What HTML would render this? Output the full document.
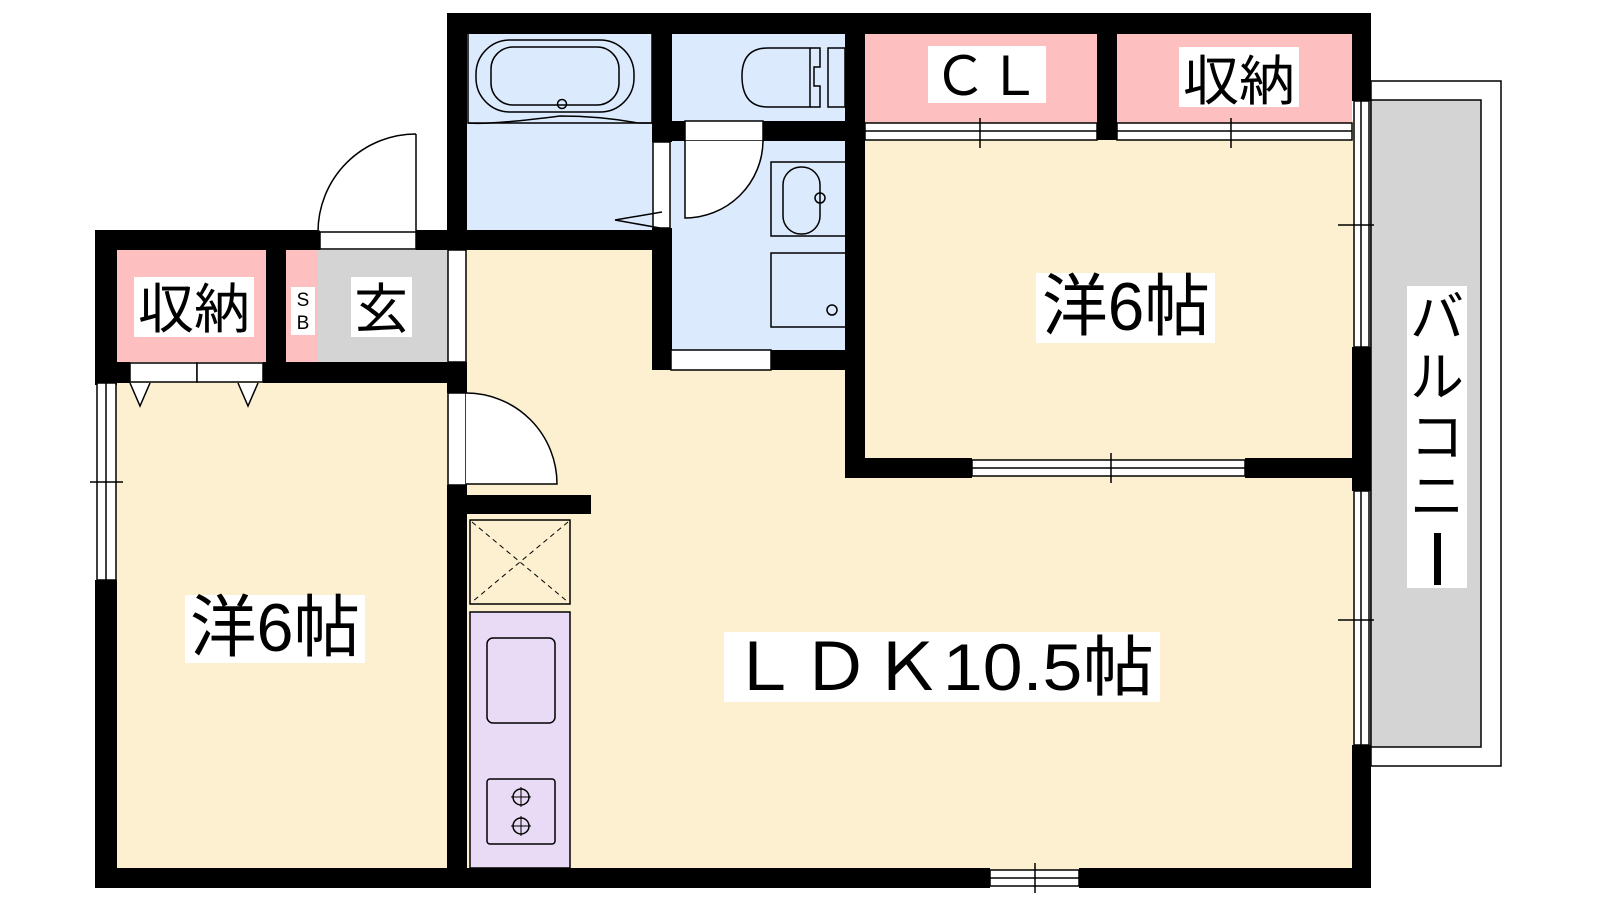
<!DOCTYPE html>
<html><head><meta charset="utf-8"><style>
body{margin:0;background:#fff;width:1600px;height:900px;overflow:hidden}
svg{display:block}
text{font-family:"Liberation Sans","Noto Sans CJK JP",sans-serif;fill:#000}
</style></head><body>
<svg width="1600" height="900" viewBox="0 0 1600 900" xmlns="http://www.w3.org/2000/svg">
<!-- balcony -->
<rect x="1371" y="81" width="130" height="685" fill="#fff" stroke="#000" stroke-width="1.5"/>
<rect x="1371" y="100" width="110" height="647" fill="#d4d4d4" stroke="#000" stroke-width="1.5"/>
<!-- floors -->
<rect x="115" y="380" width="335" height="490" fill="#fdf0d0"/>
<rect x="465" y="245" width="890" height="625" fill="#fdf0d0"/>
<rect x="860" y="120" width="495" height="345" fill="#fdf0d0"/>
<rect x="467" y="33" width="190" height="200" fill="#dbeafd"/>
<rect x="668" y="33" width="180" height="320" fill="#dbeafd"/>
<rect x="865" y="33" width="232" height="90" fill="#fdbfbf"/>
<rect x="1117" y="33" width="235" height="90" fill="#fdbfbf"/>
<rect x="117" y="250" width="150" height="112" fill="#fdbfbf"/>
<rect x="286" y="250" width="32" height="112" fill="#fdbfbf"/>
<rect x="318" y="250" width="130" height="112" fill="#d4d4d4"/>
<!-- walls -->
<g fill="#000">
<rect x="447" y="13" width="924" height="21"/>
<rect x="447" y="13" width="20" height="237"/>
<rect x="95" y="230" width="225" height="20"/>
<rect x="416" y="230" width="256" height="20"/>
<rect x="95" y="230" width="22" height="155"/>
<rect x="95" y="580" width="22" height="308"/>
<rect x="95" y="868" width="895" height="20"/>
<rect x="1079" y="868" width="292" height="20"/>
<rect x="1352" y="13" width="19" height="88"/>
<rect x="1352" y="347" width="19" height="144"/>
<rect x="1352" y="745" width="19" height="143"/>
<rect x="266" y="250" width="20" height="112"/>
<rect x="95" y="362" width="35" height="21"/>
<rect x="263" y="362" width="204" height="21"/>
<rect x="447" y="362" width="20" height="31"/>
<rect x="447" y="485" width="20" height="395"/>
<rect x="447" y="495" width="144" height="19"/>
<rect x="652" y="13" width="20" height="129"/>
<rect x="652" y="228" width="20" height="142"/>
<rect x="672" y="121" width="13" height="20"/>
<rect x="763" y="121" width="85" height="20"/>
<rect x="771" y="350" width="77" height="20"/>
<rect x="845" y="13" width="20" height="465"/>
<rect x="1097" y="33" width="20" height="107"/>
<rect x="845" y="458" width="127" height="20"/>
<rect x="1245" y="458" width="126" height="20"/>
</g>
<!-- openings/strips -->
<g fill="#fff" stroke="#000" stroke-width="1.5">
<rect x="320" y="232" width="96" height="17"/>
<rect x="448" y="250" width="18" height="112"/>
<rect x="448" y="393" width="18" height="92"/>
<rect x="653" y="142" width="17" height="86"/>
<rect x="685" y="121" width="78" height="20"/>
<rect x="671" y="350" width="100" height="20"/>
<rect x="130" y="363" width="67" height="19"/>
<rect x="197" y="363" width="66" height="19"/>
<rect x="97" y="383" width="19" height="197"/>
<rect x="972" y="460" width="273" height="16"/>
<rect x="990" y="870" width="89" height="16"/>
<rect x="1354" y="101" width="15" height="246"/>
<rect x="1354" y="491" width="15" height="254"/>
<rect x="865" y="123" width="232" height="17"/>
<rect x="1117" y="123" width="235" height="17"/>
</g>
<g stroke="#000" stroke-width="1.5" fill="none">
<line x1="106" y1="383" x2="106" y2="580"/>
<line x1="972" y1="468" x2="1245" y2="468"/>
<line x1="990" y1="878" x2="1079" y2="878"/>
<line x1="1361" y1="101" x2="1361" y2="347"/>
<line x1="1361" y1="491" x2="1361" y2="745"/>
<line x1="865" y1="131" x2="1097" y2="131"/>
<line x1="1117" y1="131" x2="1352" y2="131"/>
<line x1="980" y1="118" x2="980" y2="148"/><line x1="1231" y1="118" x2="1231" y2="148"/>
<line x1="1111" y1="453" x2="1111" y2="483"/><line x1="1035" y1="863" x2="1035" y2="893"/>
<line x1="1338" y1="225" x2="1374" y2="225"/><line x1="1338" y1="620" x2="1374" y2="620"/>
<line x1="90" y1="482" x2="123" y2="482"/>
<!-- doors -->
<path d="M416 134 L416 232 M416 134 A98 98 0 0 0 318 232" fill="#fff"/>
<path d="M466 393 A91 91 0 0 1 557 484 L466 484" fill="#fff"/>
<path d="M685 141 L685 218 A78 78 0 0 0 763 141" fill="#fff"/>
<path d="M615 220 L662 212 M615 220 L660 228"/>
<path d="M130 383 L140 406 L150 383 M238 383 L248 406 L258 383" fill="#fff"/>
<!-- bath -->
<rect x="468" y="33" width="184" height="90" fill="none"/>
<path d="M468 123 Q490 125 560 116 Q600 116 638 123 L652 123"/>
<rect x="476" y="40" width="158" height="72" rx="34"/>
<rect x="491" y="47" width="128" height="58" rx="22"/>
<circle cx="562" cy="104" r="4.5"/>
<!-- toilet -->
<path d="M810 48 L768 48 Q742 48 742 76 Q742 107 768 107 L810 107 Z"/>
<path d="M810 48 L820 48 L820 67 L814 67 L814 86 L820 86 L820 107 L810 107"/>
<rect x="828" y="48" width="17" height="59"/>
<!-- sink -->
<rect x="771" y="162" width="77" height="74"/>
<rect x="783" y="167" width="37" height="67" rx="18"/>
<circle cx="820" cy="198" r="5"/>
<rect x="771" y="253" width="77" height="74"/>
<circle cx="832" cy="310" r="5"/>
</g>
<!-- kitchen -->
<rect x="470" y="520" width="100" height="84" fill="#fdf0d0" stroke="#000" stroke-width="1.5"/>
<path d="M472 522 L568 602 M568 522 L472 602" stroke="#000" stroke-width="1" stroke-dasharray="5,4"/>
<rect x="470" y="612" width="100" height="256" fill="#e9dbf5" stroke="#000" stroke-width="1.5"/>
<rect x="487" y="638" width="68" height="85" rx="6" fill="none" stroke="#000" stroke-width="1.5"/>
<rect x="487" y="779" width="68" height="65" rx="3" fill="none" stroke="#000" stroke-width="1.5"/>
<g fill="none" stroke="#000" stroke-width="1.5">
<circle cx="521" cy="797" r="8"/><circle cx="521" cy="826" r="8"/>
<path d="M511 797h20M521 787v20M511 826h20M521 816v20" stroke-width="1"/>
</g>
<!-- labels -->
<g fill="#fff">
<rect x="928" y="46" width="118" height="57"/>
<rect x="1179" y="47" width="120" height="60"/>
<rect x="134" y="277" width="120" height="60"/>
<rect x="291" y="287" width="24" height="48"/>
<rect x="351" y="277" width="61" height="60"/>
<rect x="1036" y="273" width="179" height="70"/>
<rect x="185" y="595" width="180" height="68"/>
<rect x="724" y="632" width="436" height="70"/>
<rect x="1407" y="286" width="60" height="302"/>
</g>
<text x="987" y="95" font-size="54" text-anchor="middle">ＣＬ</text>
<text x="1239" y="100" font-size="54" textLength="112" lengthAdjust="spacingAndGlyphs" text-anchor="middle">収納</text>
<text x="194" y="328" font-size="54" textLength="112" lengthAdjust="spacingAndGlyphs" text-anchor="middle">収納</text>
<text x="303" y="306" font-size="19" text-anchor="middle">S</text>
<text x="303" y="329" font-size="19" text-anchor="middle">B</text>
<text x="381" y="328" font-size="54" text-anchor="middle">玄</text>
<text x="1042" y="330" font-size="68" textLength="168" lengthAdjust="spacingAndGlyphs">洋6帖</text>
<text x="190" y="651" font-size="68" textLength="170" lengthAdjust="spacingAndGlyphs">洋6帖</text>
<text x="728" y="690" font-size="66" textLength="426" lengthAdjust="spacingAndGlyphs">ＬＤＫ10.5帖</text>
<text x="1437" y="336" font-size="54" text-anchor="middle">バ</text>
<text x="1437" y="396" font-size="54" text-anchor="middle">ル</text>
<text x="1437" y="456" font-size="54" text-anchor="middle">コ</text>
<text x="1437" y="515" font-size="54" text-anchor="middle">ニ</text>
<rect x="1434" y="533" width="7" height="52" fill="#000"/>
</svg>
</body></html>
